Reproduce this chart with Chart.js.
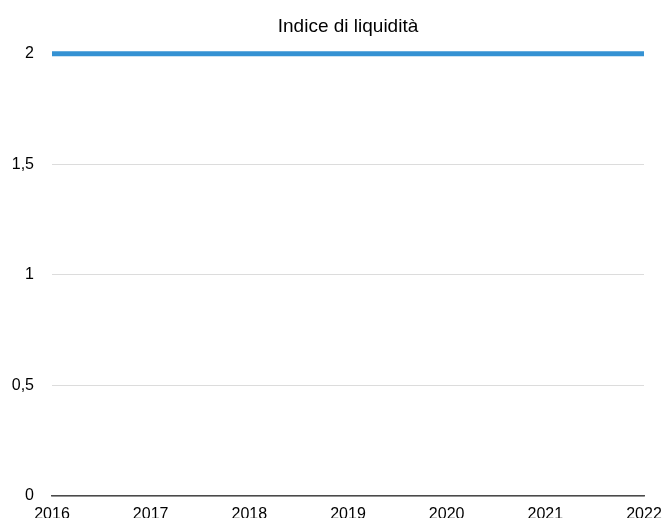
<!DOCTYPE html>
<html>
<head>
<meta charset="utf-8">
<script src="https://cdn.jsdelivr.net/npm/chart.js@4"></script>
<style>
  html, body { margin: 0; padding: 0; background: #fff; }
  #wrap { width: 662px; height: 518px; }
</style>
</head>
<body>
<div id="wrap"><canvas id="liquidityChart" width="662" height="518"></canvas></div>
<script>
const years = ['2016', '2017', '2018', '2019', '2020', '2021', '2022'];
const liquidity = [2, 2, 2, 2, 2, 2, 2];
const yTicks = [0, 0.5, 1, 1.5, 2];

const fontFamily = '"Liberation Sans", Arial, Helvetica, sans-serif';

const ctx = document.getElementById('liquidityChart').getContext('2d');
new Chart(ctx, {
    type: 'line',
    data: {
        labels: years,
        datasets: [{
            label: 'Indice di liquidità',
            data: liquidity,
            borderColor: '#3592d3',
            borderWidth: 5,
            borderCapStyle: 'butt',
            pointRadius: 0,
            tension: 0,
            clip: false
        }]
    },
    options: {
        responsive: false,
        animation: false,
        layout: { padding: { left: 0, right: 18, top: 0, bottom: 0 } },
        plugins: {
            legend: { display: false },
            tooltip: { enabled: false },
            title: {
                display: true,
                fullSize: false,
                text: 'Indice di liquidità',
                color: '#000',
                font: { family: fontFamily, size: 19, weight: 'normal' },
                padding: { top: 15, bottom: 16 }
            }
        },
        scales: {
            x: {
                offset: false,
                grid: { display: false, drawTicks: false },
                border: { display: true, color: '#4a4a4a', width: 1.5 },
                ticks: {
                    color: '#000',
                    padding: 9,
                    maxRotation: 0,
                    autoSkip: false,
                    font: { family: fontFamily, size: 16 }
                },
                afterFit: (scale) => {
                    scale.height = 22;
                    scale.paddingLeft = 0;
                    scale.paddingRight = 0;
                }
            },
            y: {
                min: 0,
                max: 2,
                afterBuildTicks: (scale) => { scale.ticks = yTicks.map(v => ({ value: v })); },
                grid: { color: '#dcdcdc', drawTicks: false, lineWidth: 1 },
                border: { display: false },
                ticks: {
                    color: '#000',
                    padding: 18,
                    font: { family: fontFamily, size: 16 },
                    callback: (v) => String(v).replace('.', ',')
                },
                afterFit: (scale) => {
                    scale.width = 52;
                    scale.paddingTop = 0;
                    scale.paddingBottom = 0;
                }
            }
        }
    }
});
</script>
</body>
</html>
